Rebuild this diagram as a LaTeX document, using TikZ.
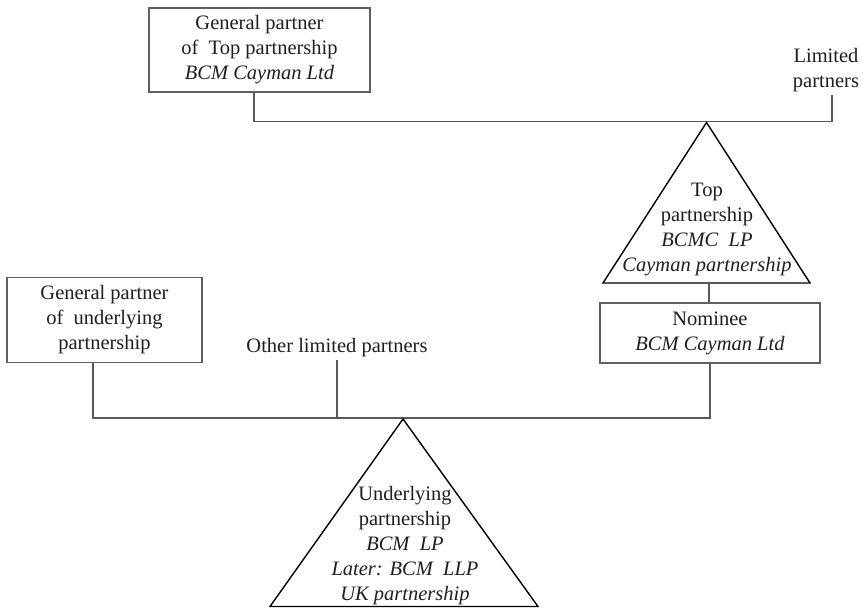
\documentclass[tikz,border=0pt]{standalone}
\usepackage{fontspec}
\setmainfont{Liberation Serif}
\begin{document}
\begin{tikzpicture}[x=1pt,y=-1pt,
  every node/.style={font=\fontsize{20.5}{25}\selectfont, text=black!88, align=center},
  box/.style={draw=black!62, line width=1.1pt, inner sep=0pt},
  bus/.style={draw=black!65, line width=1.2pt},
  tri/.style={draw=black, line width=1.4pt, line join=miter},
  lbl/.style={inner sep=3pt}]
\useasboundingbox (0,0) rectangle (863,608);
% boxes
\node[box, minimum width=221pt, minimum height=84pt] (gpt) at (259.5,50) {General partner\\of\ \ Top partnership\\\textit{BCM Cayman Ltd}};
\node[lbl] (lp) at (826,70) {Limited\\partners};
\node[box, minimum width=195pt, minimum height=85pt] (gpu) at (104.5,320) {General partner\\of\ \ underlying\\partnership};
\node[lbl] (olp) at (337,348) {Other limited partners};
\node[box, minimum width=220pt, minimum height=60pt] (nom) at (710,333) {Nominee\\\textit{BCM Cayman Ltd}};
% top bus
\coordinate (b1) at (254,121.5);
\coordinate (b2) at (832,121.5);
\draw[bus] (gpt.south -| b1) -- (b1) -- (b2) -- (lp.south -| b2);
% top triangle
\coordinate (ta) at (706.5,122.5);
\coordinate (tl) at (603,283);
\coordinate (tr) at (810,283);
\draw[tri] (tl) -- (ta) -- (tr) -- cycle;
\node (ttxt) at (707,229) {Top\\partnership\\\textit{BCMC\ \ LP}\\\textit{Cayman partnership}};
\coordinate (tb) at (709,283);
\draw[bus] (tb) -- (nom.north -| tb);
% bottom bus
\coordinate (c1) at (93,418);
\coordinate (c2) at (710,418);
\coordinate (c3) at (337,418);
\draw[bus] (gpu.south -| c1) -- (c1) -- (c2) -- (nom.south -| c2);
\draw[bus] (olp.south -| c3) -- (c3);
% bottom triangle
\coordinate (ua) at (403,419);
\coordinate (ul) at (270,606.5);
\coordinate (ur) at (538,606.5);
\draw[tri] (ul) -- (ua) -- (ur) -- cycle;
\node (utxt) at (405,546) {Underlying\\partnership\\\textit{BCM\ \ LP}\\\textit{Later: BCM\ \ LLP}\\\textit{UK partnership}};
\end{tikzpicture}
\end{document}
